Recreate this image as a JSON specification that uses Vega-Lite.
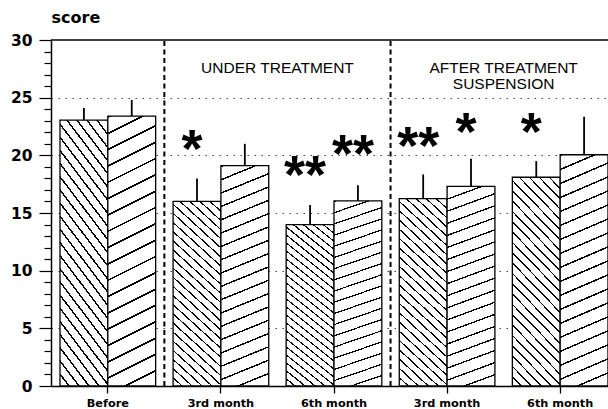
{
  "$schema": "https://vega.github.io/schema/vega-lite/v6.json",
  "width": 557,
  "height": 346,
  "autosize": {"type": "none"},
  "padding": {"left": 51, "top": 40, "right": 0, "bottom": 23},
  "background": "white",
  "config": {"view": {"stroke": null}},
  "datasets": {
    "bars": [
      {"g": "B", "s": "A", "v": 23.05, "hi": 24.1},
      {"g": "B", "s": "B", "v": 23.4, "hi": 24.8},
      {"g": "U3", "s": "A", "v": 16.0, "hi": 18.0},
      {"g": "U3", "s": "B", "v": 19.1, "hi": 21.0},
      {"g": "U6", "s": "A", "v": 14.0, "hi": 15.7},
      {"g": "U6", "s": "B", "v": 16.05, "hi": 17.4},
      {"g": "A3", "s": "A", "v": 16.25, "hi": 18.35},
      {"g": "A3", "s": "B", "v": 17.3, "hi": 19.7},
      {"g": "A6", "s": "A", "v": 18.1, "hi": 19.5},
      {"g": "A6", "s": "B", "v": 20.05, "hi": 23.35}
    ],
    "stars": [
      {"g": "U3", "s": "A", "t": "*", "v": 21.2},
      {"g": "U6", "s": "A", "t": "**", "v": 19.0},
      {"g": "U6", "s": "B", "t": "**", "v": 20.8},
      {"g": "A3", "s": "A", "t": "**", "v": 21.5},
      {"g": "A3", "s": "B", "t": "*", "v": 22.7},
      {"g": "A6", "s": "A", "t": "*", "v": 22.7}
    ],
    "separators": [{"g": "B"}, {"g": "U6"}],
    "phases": [
      {"g": "U3", "t": ["UNDER TREATMENT"], "v": 27.6},
      {"g": "A3", "t": ["AFTER TREATMENT", "SUSPENSION"], "v": 27.55}
    ]
  },
  "layer": [
    {
      "data": {"name": "bars"},
      "transform": [{"filter": "datum.s === 'A'"}],
      "mark": {
        "type": "bar",
        "stroke": "black",
        "strokeWidth": 1.3,
        "fill": {
          "gradient": "linear",
          "x1": 0, "y1": 1, "x2": 0.2776, "y2": -0.1712,
          "stops": [
            {"offset": 0, "color": "#fff"},
            {"offset": 0.0328, "color": "#fff"}, {"offset": 0.0328, "color": "#000"}, {"offset": 0.04, "color": "#000"}, {"offset": 0.04, "color": "#fff"},
            {"offset": 0.0728, "color": "#fff"}, {"offset": 0.0728, "color": "#000"}, {"offset": 0.08, "color": "#000"}, {"offset": 0.08, "color": "#fff"},
            {"offset": 0.1128, "color": "#fff"}, {"offset": 0.1128, "color": "#000"}, {"offset": 0.12, "color": "#000"}, {"offset": 0.12, "color": "#fff"},
            {"offset": 0.1528, "color": "#fff"}, {"offset": 0.1528, "color": "#000"}, {"offset": 0.16, "color": "#000"}, {"offset": 0.16, "color": "#fff"},
            {"offset": 0.1928, "color": "#fff"}, {"offset": 0.1928, "color": "#000"}, {"offset": 0.2, "color": "#000"}, {"offset": 0.2, "color": "#fff"},
            {"offset": 0.2328, "color": "#fff"}, {"offset": 0.2328, "color": "#000"}, {"offset": 0.24, "color": "#000"}, {"offset": 0.24, "color": "#fff"},
            {"offset": 0.2728, "color": "#fff"}, {"offset": 0.2728, "color": "#000"}, {"offset": 0.28, "color": "#000"}, {"offset": 0.28, "color": "#fff"},
            {"offset": 0.3128, "color": "#fff"}, {"offset": 0.3128, "color": "#000"}, {"offset": 0.32, "color": "#000"}, {"offset": 0.32, "color": "#fff"},
            {"offset": 0.3528, "color": "#fff"}, {"offset": 0.3528, "color": "#000"}, {"offset": 0.36, "color": "#000"}, {"offset": 0.36, "color": "#fff"},
            {"offset": 0.3928, "color": "#fff"}, {"offset": 0.3928, "color": "#000"}, {"offset": 0.4, "color": "#000"}, {"offset": 0.4, "color": "#fff"},
            {"offset": 0.4328, "color": "#fff"}, {"offset": 0.4328, "color": "#000"}, {"offset": 0.44, "color": "#000"}, {"offset": 0.44, "color": "#fff"},
            {"offset": 0.4728, "color": "#fff"}, {"offset": 0.4728, "color": "#000"}, {"offset": 0.48, "color": "#000"}, {"offset": 0.48, "color": "#fff"},
            {"offset": 0.5128, "color": "#fff"}, {"offset": 0.5128, "color": "#000"}, {"offset": 0.52, "color": "#000"}, {"offset": 0.52, "color": "#fff"},
            {"offset": 0.5528, "color": "#fff"}, {"offset": 0.5528, "color": "#000"}, {"offset": 0.56, "color": "#000"}, {"offset": 0.56, "color": "#fff"},
            {"offset": 0.5928, "color": "#fff"}, {"offset": 0.5928, "color": "#000"}, {"offset": 0.6, "color": "#000"}, {"offset": 0.6, "color": "#fff"},
            {"offset": 0.6328, "color": "#fff"}, {"offset": 0.6328, "color": "#000"}, {"offset": 0.64, "color": "#000"}, {"offset": 0.64, "color": "#fff"},
            {"offset": 0.6728, "color": "#fff"}, {"offset": 0.6728, "color": "#000"}, {"offset": 0.68, "color": "#000"}, {"offset": 0.68, "color": "#fff"},
            {"offset": 0.7128, "color": "#fff"}, {"offset": 0.7128, "color": "#000"}, {"offset": 0.72, "color": "#000"}, {"offset": 0.72, "color": "#fff"},
            {"offset": 0.7528, "color": "#fff"}, {"offset": 0.7528, "color": "#000"}, {"offset": 0.76, "color": "#000"}, {"offset": 0.76, "color": "#fff"},
            {"offset": 0.7928, "color": "#fff"}, {"offset": 0.7928, "color": "#000"}, {"offset": 0.8, "color": "#000"}, {"offset": 0.8, "color": "#fff"},
            {"offset": 0.8328, "color": "#fff"}, {"offset": 0.8328, "color": "#000"}, {"offset": 0.84, "color": "#000"}, {"offset": 0.84, "color": "#fff"},
            {"offset": 0.8728, "color": "#fff"}, {"offset": 0.8728, "color": "#000"}, {"offset": 0.88, "color": "#000"}, {"offset": 0.88, "color": "#fff"},
            {"offset": 0.9128, "color": "#fff"}, {"offset": 0.9128, "color": "#000"}, {"offset": 0.92, "color": "#000"}, {"offset": 0.92, "color": "#fff"},
            {"offset": 0.9528, "color": "#fff"}, {"offset": 0.9528, "color": "#000"}, {"offset": 0.96, "color": "#000"}, {"offset": 0.96, "color": "#fff"},
            {"offset": 0.9928, "color": "#fff"}, {"offset": 0.9928, "color": "#000"}, {"offset": 1, "color": "#000"}
          ]
        }
      },
      "encoding": {
        "x": {
          "field": "g", "type": "nominal",
          "scale": {"domain": ["B", "U3", "U6", "A3", "A6"], "paddingInner": 0.1542, "paddingOuter": 0.0398, "align": 1},
          "axis": {
            "title": null, "labelAngle": 0,
            "labelExpr": "datum.value == 'B' ? 'Before' : (indexof(datum.value, '3') >= 0 ? '3rd month' : '6th month')",
            "labelFont": "DejaVu Sans", "labelFontWeight": "bold", "labelFontSize": 11.3, "labelColor": "black",
            "labelPadding": 4, "tickColor": "black", "tickSize": 7, "tickWidth": 1.3,
            "domainColor": "black", "domainWidth": 1.5, "grid": false
          }
        },
        "xOffset": {"field": "s", "type": "nominal", "scale": {"domain": ["A", "B"], "paddingInner": 0, "paddingOuter": 0}},
        "y": {
          "field": "v", "type": "quantitative",
          "scale": {"domain": [0, 30], "nice": false, "zero": true},
          "axis": {
            "title": "score", "titleAngle": 0, "titleAlign": "left", "titleBaseline": "middle",
            "titleX": 0, "titleY": -23, "titleFont": "DejaVu Sans", "titleFontSize": 16, "titleFontWeight": "bold", "titleColor": "black",
            "values": [0,1,2,3,4,5,6,7,8,9,10,11,12,13,14,15,16,17,18,19,20,21,22,23,24,25,26,27,28,29,30],
            "tickCount": 40,
            "labelExpr": "datum.value % 5 === 0 ? datum.label : ''",
            "labelOverlap": false,
            "labelFont": "DejaVu Sans", "labelFontWeight": "bold", "labelFontSize": 15.5, "labelColor": "black", "labelPadding": 7,
            "tickColor": "black", "tickWidth": 1.2,
            "tickSize": {"condition": {"test": "datum.value % 5 === 0", "value": 12}, "value": 7},
            "domainColor": "black", "domainWidth": 1.5,
            "grid": true, "gridColor": "#444", "gridDash": [1.5, 5.5], "gridWidth": 1,
            "gridOpacity": {"condition": {"test": "datum.value % 5 === 0 && datum.value > 0 && datum.value < 30", "value": 1}, "value": 0}
          }
        }
      }
    },
    {
      "data": {"name": "bars"},
      "transform": [{"filter": "datum.s === 'B'"}],
      "mark": {
        "type": "bar",
        "stroke": "black",
        "strokeWidth": 1.3,
        "fill": {
          "gradient": "linear",
          "x1": 1, "y1": 1, "x2": 0.9042, "y2": -0.0802,
          "stops": [
            {"offset": 0, "color": "#fff"},
            {"offset": 0.0491, "color": "#fff"}, {"offset": 0.0491, "color": "#000"}, {"offset": 0.0556, "color": "#000"}, {"offset": 0.0556, "color": "#fff"},
            {"offset": 0.1046, "color": "#fff"}, {"offset": 0.1046, "color": "#000"}, {"offset": 0.1111, "color": "#000"}, {"offset": 0.1111, "color": "#fff"},
            {"offset": 0.1602, "color": "#fff"}, {"offset": 0.1602, "color": "#000"}, {"offset": 0.1667, "color": "#000"}, {"offset": 0.1667, "color": "#fff"},
            {"offset": 0.2157, "color": "#fff"}, {"offset": 0.2157, "color": "#000"}, {"offset": 0.2222, "color": "#000"}, {"offset": 0.2222, "color": "#fff"},
            {"offset": 0.2713, "color": "#fff"}, {"offset": 0.2713, "color": "#000"}, {"offset": 0.2778, "color": "#000"}, {"offset": 0.2778, "color": "#fff"},
            {"offset": 0.3268, "color": "#fff"}, {"offset": 0.3268, "color": "#000"}, {"offset": 0.3333, "color": "#000"}, {"offset": 0.3333, "color": "#fff"},
            {"offset": 0.3824, "color": "#fff"}, {"offset": 0.3824, "color": "#000"}, {"offset": 0.3889, "color": "#000"}, {"offset": 0.3889, "color": "#fff"},
            {"offset": 0.4379, "color": "#fff"}, {"offset": 0.4379, "color": "#000"}, {"offset": 0.4444, "color": "#000"}, {"offset": 0.4444, "color": "#fff"},
            {"offset": 0.4935, "color": "#fff"}, {"offset": 0.4935, "color": "#000"}, {"offset": 0.5, "color": "#000"}, {"offset": 0.5, "color": "#fff"},
            {"offset": 0.5491, "color": "#fff"}, {"offset": 0.5491, "color": "#000"}, {"offset": 0.5556, "color": "#000"}, {"offset": 0.5556, "color": "#fff"},
            {"offset": 0.6046, "color": "#fff"}, {"offset": 0.6046, "color": "#000"}, {"offset": 0.6111, "color": "#000"}, {"offset": 0.6111, "color": "#fff"},
            {"offset": 0.6602, "color": "#fff"}, {"offset": 0.6602, "color": "#000"}, {"offset": 0.6667, "color": "#000"}, {"offset": 0.6667, "color": "#fff"},
            {"offset": 0.7157, "color": "#fff"}, {"offset": 0.7157, "color": "#000"}, {"offset": 0.7222, "color": "#000"}, {"offset": 0.7222, "color": "#fff"},
            {"offset": 0.7713, "color": "#fff"}, {"offset": 0.7713, "color": "#000"}, {"offset": 0.7778, "color": "#000"}, {"offset": 0.7778, "color": "#fff"},
            {"offset": 0.8268, "color": "#fff"}, {"offset": 0.8268, "color": "#000"}, {"offset": 0.8333, "color": "#000"}, {"offset": 0.8333, "color": "#fff"},
            {"offset": 0.8824, "color": "#fff"}, {"offset": 0.8824, "color": "#000"}, {"offset": 0.8889, "color": "#000"}, {"offset": 0.8889, "color": "#fff"},
            {"offset": 0.9379, "color": "#fff"}, {"offset": 0.9379, "color": "#000"}, {"offset": 0.9444, "color": "#000"}, {"offset": 0.9444, "color": "#fff"},
            {"offset": 0.9935, "color": "#fff"}, {"offset": 0.9935, "color": "#000"}, {"offset": 1, "color": "#000"}
          ]
        }
      },
      "encoding": {
        "x": {"field": "g", "type": "nominal"},
        "xOffset": {"field": "s", "type": "nominal"},
        "y": {"field": "v", "type": "quantitative"}
      }
    },
    {
      "data": {"name": "bars"},
      "mark": {"type": "rule", "color": "black", "strokeWidth": 1.8},
      "encoding": {
        "x": {"field": "g", "type": "nominal"},
        "xOffset": {"field": "s", "type": "nominal"},
        "y": {"field": "v", "type": "quantitative"},
        "y2": {"field": "hi"}
      }
    },
    {
      "data": {"name": "separators"},
      "mark": {"type": "rule", "color": "black", "strokeWidth": 2, "strokeDash": [5, 3.5]},
      "encoding": {
        "x": {"field": "g", "type": "nominal", "bandPosition": 1.0912},
        "y": {"datum": 0},
        "y2": {"datum": 30}
      }
    },
    {
      "data": {"values": [{}]},
      "mark": {"type": "rule", "color": "black", "strokeWidth": 1.5},
      "encoding": {"y": {"datum": 30}}
    },
    {
      "data": {"name": "phases"},
      "mark": {"type": "text", "font": "Liberation Sans", "fontSize": 15.5, "lineHeight": 15.5, "color": "black", "baseline": "middle", "align": "center"},
      "encoding": {
        "x": {"field": "g", "type": "nominal", "bandPosition": 1.0912},
        "y": {"field": "v", "type": "quantitative"},
        "text": {"field": "t"}
      }
    },
    {
      "data": {"name": "stars"},
      "mark": {"type": "text", "font": "Liberation Sans", "fontWeight": "bold", "fontSize": 54, "color": "black", "baseline": "alphabetic", "align": "center", "dx": -5, "dy": 26},
      "encoding": {
        "x": {"field": "g", "type": "nominal"},
        "xOffset": {"field": "s", "type": "nominal"},
        "y": {"field": "v", "type": "quantitative"},
        "text": {"field": "t"}
      }
    }
  ]
}
